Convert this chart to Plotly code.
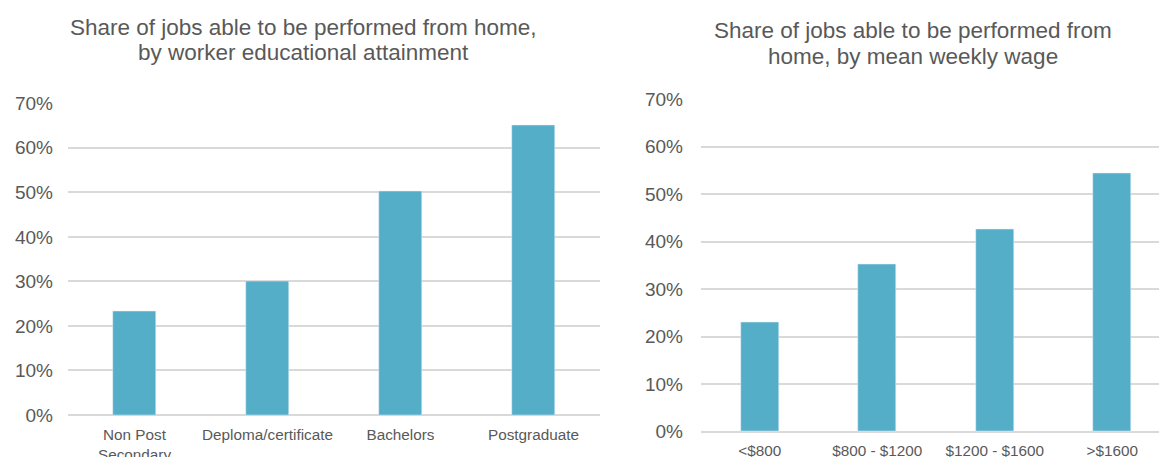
import plotly.graph_objects as go

# Share of jobs that can be done from home
edu_categories = ["Non Post<br>Secondary", "Deploma/certificate", "Bachelors", "Postgraduate"]
edu_share = [0.233, 0.30, 0.502, 0.651]

wage_categories = ["<$800", "$800 - $1200", "$1200 - $1600", ">$1600"]
wage_share = [0.231, 0.353, 0.427, 0.545]

y_ticks = [0, 0.1, 0.2, 0.3, 0.4, 0.5, 0.6, 0.7]

edu_title = ["Share of jobs able to be performed from home,",
             "by worker educational attainment"]
wage_title = ["Share of jobs able to be performed from",
              "home, by mean weekly wage"]

W, H = 1159, 457
BAR = "#55AEC8"
GRID = "#D9D9D9"
TEXT = "#595959"
FONT = "Liberation Sans, Arial, sans-serif"


def px_x(p):
    return p / W


def px_y(p):
    return 1 - p / H


fig = go.Figure()
fig.add_trace(go.Bar(x=edu_categories, y=edu_share, marker_color=BAR,
                     width=0.32, xaxis="x", yaxis="y", showlegend=False))
fig.add_trace(go.Bar(x=wage_categories, y=wage_share, marker_color=BAR,
                     width=0.32, xaxis="x2", yaxis="y2", showlegend=False))

yaxis_common = dict(range=[0, 0.7], tickvals=y_ticks, tickformat=".0%",
                    showgrid=True, gridcolor=GRID, gridwidth=1.5,
                    zeroline=True, zerolinecolor=GRID, zerolinewidth=1.5,
                    showline=False, ticks="", automargin=False,
                    tickfont=dict(size=19, color=TEXT, family=FONT))
xaxis_common = dict(showgrid=False, showline=False, ticks="", zeroline=False,
                    automargin=False,
                    tickfont=dict(size=15.3, color=TEXT, family=FONT))

# Two-line chart titles, one annotation per line for tighter line spacing
title_lines = []
for lines, cx, ys in ((edu_title, 303.5, (27, 52.5)),
                      (wage_title, 912.5, (30, 56))):
    for text, yy in zip(lines, ys):
        title_lines.append(dict(text=text, x=px_x(cx), y=px_y(yy),
                                xref="paper", yref="paper",
                                xanchor="center", yanchor="middle",
                                showarrow=False,
                                font=dict(size=22.5, color=TEXT, family=FONT)))

fig.update_layout(
    width=W, height=H,
    autosize=False,
    margin=dict(l=0, r=0, t=0, b=0, pad=0, autoexpand=False),
    paper_bgcolor="white", plot_bgcolor="white",
    bargap=0,
    xaxis=dict(domain=[px_x(68), px_x(600)], range=[-0.5, 3.5],
               ticklabelstandoff=9, **xaxis_common),
    yaxis=dict(domain=[px_y(415), px_y(103.3)], anchor="x",
               ticklabelstandoff=14, **yaxis_common),
    xaxis2=dict(domain=[px_x(701), 1.0], range=[-0.5, -0.5 + 458 / 117.5],
                anchor="y2", ticklabelstandoff=8, **xaxis_common),
    yaxis2=dict(domain=[px_y(431.7), px_y(99.3)], anchor="x2",
                ticklabelstandoff=17, **yaxis_common),
    annotations=title_lines,
)

fig.write_html("out.html")
